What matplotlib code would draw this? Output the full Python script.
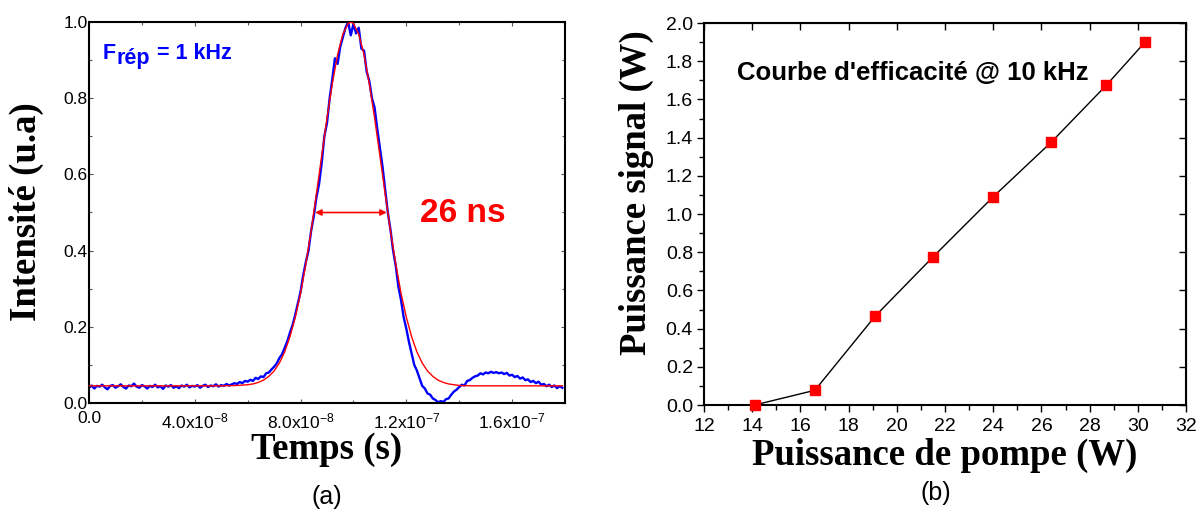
import numpy as np
import matplotlib
matplotlib.use("Agg")
import matplotlib.pyplot as plt
from matplotlib.ticker import MultipleLocator, FormatStrFormatter

plt.rcParams['font.family'] = ['Liberation Sans', 'DejaVu Sans']
plt.rcParams['mathtext.fontset'] = 'custom'
plt.rcParams['mathtext.rm'] = 'Liberation Sans'
plt.rcParams['mathtext.bf'] = 'Liberation Sans:bold'
plt.rcParams['mathtext.it'] = 'Liberation Sans:italic'

pulse_t_ns = np.arange(0, 180)
pulse_val = [
    0.040, 0.046, 0.038, 0.045, 0.043, 0.048, 0.041, 0.036, 0.045, 0.047,
    0.040, 0.044, 0.049, 0.042, 0.038, 0.046, 0.044, 0.051, 0.043, 0.040,
    0.047, 0.044, 0.038, 0.045, 0.042, 0.048, 0.041, 0.044, 0.037, 0.046,
    0.043, 0.047, 0.040, 0.044, 0.039, 0.046, 0.043, 0.048, 0.041, 0.045,
    0.043, 0.047, 0.040, 0.045, 0.048, 0.042, 0.046, 0.044, 0.049, 0.043,
    0.047, 0.045, 0.050, 0.046, 0.049, 0.052, 0.050, 0.055, 0.052, 0.058,
    0.056, 0.061, 0.058, 0.066, 0.063, 0.070, 0.068, 0.078, 0.080, 0.088,
    0.095, 0.104, 0.118, 0.128, 0.145, 0.162, 0.185, 0.205, 0.232, 0.262,
    0.292, 0.335, 0.370, 0.400, 0.452, 0.490, 0.540, 0.575, 0.630, 0.700,
    0.735, 0.800, 0.850, 0.905, 0.890, 0.935, 0.960, 0.985, 1.000, 0.965,
    0.995, 0.970, 0.985, 0.930, 0.925, 0.870, 0.845, 0.800, 0.775, 0.720,
    0.670, 0.620, 0.560, 0.500, 0.455, 0.400, 0.360, 0.305, 0.270, 0.225,
    0.195, 0.160, 0.130, 0.100, 0.085, 0.065, 0.045, 0.038, 0.025, 0.022,
    0.012, 0.008, 0.002, 0.005, 0.003, 0.010, 0.012, 0.022, 0.030, 0.035,
    0.042, 0.048, 0.046, 0.058, 0.060, 0.066, 0.070, 0.072, 0.078, 0.075,
    0.080, 0.078, 0.082, 0.079, 0.081, 0.078, 0.080, 0.076, 0.079, 0.072,
    0.074, 0.068, 0.071, 0.064, 0.067, 0.060, 0.062, 0.055, 0.058, 0.052,
    0.056, 0.048, 0.050, 0.044, 0.048, 0.042, 0.046, 0.039, 0.044, 0.040,
]

# (a) fitted curve (red)
fit_t_ns = [0, 30, 50, 56, 60, 62, 64, 66, 68, 70, 72, 74, 76, 78, 80, 82, 84,
            86, 88, 90, 92, 94, 96, 98, 99, 100, 102, 104, 106, 108, 110, 112,
            114, 116, 118, 120, 122, 124, 126, 128, 130, 132, 134, 136, 138,
            140, 146, 160, 179]
fit_val = [0.045, 0.045, 0.045, 0.046, 0.048, 0.050, 0.054, 0.060, 0.070,
           0.084, 0.105, 0.134, 0.174, 0.225, 0.288, 0.365, 0.452, 0.549,
           0.649, 0.748, 0.838, 0.914, 0.968, 0.996, 1.000, 0.996, 0.968,
           0.914, 0.838, 0.748, 0.649, 0.549, 0.452, 0.365, 0.288, 0.225,
           0.174, 0.134, 0.105, 0.084, 0.070, 0.060, 0.054, 0.050, 0.048,
           0.046, 0.045, 0.045, 0.045]

fwhm_left_ns = 85.5
fwhm_right_ns = 112.6
fwhm_level = 0.5

# (b) efficiency curve @ 10 kHz
pump_w = [14.1, 16.6, 19.1, 21.5, 24.0, 26.4, 28.7, 30.3]
signal_w = [0.0, 0.077, 0.465, 0.775, 1.09, 1.375, 1.675, 1.9]

W, H = 1198, 511
fig = plt.figure(figsize=(W / 100, H / 100), dpi=100)


def box(x0, y0, x1, y1):
    return [x0 / W, 1 - y1 / H, (x1 - x0) / W, (y1 - y0) / H]


def px(x, y):
    return x / W, 1 - y / H


serif = dict(family=['Liberation Serif', 'DejaVu Serif'], weight='bold', size=26.5)

# ---------------- (a) ----------------
ax1 = fig.add_axes(box(89, 22, 565, 403))
t1 = np.array(pulse_t_ns) * 1e-9
ax1.plot(t1, pulse_val, color='#0000ff', lw=1.7, zorder=2)
ax1.plot(np.array(fit_t_ns) * 1e-9, fit_val, color='#ff0000', lw=1.0, zorder=3)
ax1.annotate('', xy=(fwhm_left_ns * 1e-9, fwhm_level),
             xytext=(fwhm_right_ns * 1e-9, fwhm_level),
             arrowprops=dict(arrowstyle='<|-|>', color='#ff0000', lw=1.2,
                             mutation_scale=9, shrinkA=0, shrinkB=0))
fig.text(*px(420, 214), '26 ns', color='#ff0000', fontsize=24,
         fontweight='bold', va='center', ha='left')

# F_rép label, subscript drawn as its own text
blue_txt = dict(color='#0000ff', fontsize=15.5, fontweight='bold', va='baseline')
fig.text(*px(103, 59), 'F', **blue_txt)
fig.text(*px(116, 64), 'rép', **blue_txt)
fig.text(*px(157, 59), '= 1 kHz', **blue_txt)

ax1.set_xlim(0, 1.8e-7)
ax1.set_ylim(0, 1.0)
ax1.set_xticks([0, 4e-8, 8e-8, 1.2e-7, 1.6e-7])
ax1.set_xticklabels(['0.0', r'4.0x10$^{-8}$', r'8.0x10$^{-8}$',
                     r'1.2x10$^{-7}$', r'1.6x10$^{-7}$'])
ax1.xaxis.set_minor_locator(MultipleLocator(2e-8))
ax1.yaxis.set_major_locator(MultipleLocator(0.2))
ax1.yaxis.set_minor_locator(MultipleLocator(0.1))
ax1.yaxis.set_major_formatter(FormatStrFormatter('%.1f'))
ax1.tick_params(which='both', direction='in', top=True, right=True,
                labelsize=12.5, width=0.8, color='#555555')
ax1.tick_params(which='major', length=3)
ax1.tick_params(which='minor', length=2)
ax1.tick_params(axis='y', pad=1)
ax1.tick_params(axis='x', pad=6)
for s in ax1.spines.values():
    s.set_linewidth(1.5)

fig.text(*px(26, 212), 'Intensité (u.a)', rotation=90,
         ha='center', va='center', **serif)
fig.text(*px(327, 459), 'Temps (s)', ha='center', va='baseline', **serif)
fig.text(*px(327, 497), '(a)', ha='center', va='center', fontsize=18)

# ---------------- (b) ----------------
ax2 = fig.add_axes(box(704, 23, 1186, 405))
ax2.plot(pump_w, signal_w, color='black', lw=1.0, marker='s',
         markersize=6.5, markerfacecolor='#ff0000', markeredgecolor='#ff0000',
         clip_on=False, zorder=3)
ax2.set_xlim(12, 32)
ax2.set_ylim(0, 2.0)
ax2.xaxis.set_major_locator(MultipleLocator(2))
ax2.xaxis.set_minor_locator(MultipleLocator(1))
ax2.yaxis.set_major_locator(MultipleLocator(0.2))
ax2.yaxis.set_minor_locator(MultipleLocator(0.1))
ax2.yaxis.set_major_formatter(FormatStrFormatter('%.1f'))
ax2.tick_params(which='both', direction='out', labelsize=14, width=1.0)
ax2.tick_params(which='major', length=5)
ax2.tick_params(which='minor', length=3.5)
ax2.tick_params(axis='y', pad=3)
ax2.tick_params(axis='x', pad=4)
for s in ax2.spines.values():
    s.set_linewidth(1.5)

top = ax2.secondary_xaxis('top')
top.set_xticks(np.arange(12, 33, 2))
top.tick_params(direction='in', length=5, width=1.0, labeltop=False)
right = ax2.secondary_yaxis('right')
right.set_yticks(np.arange(0, 2.01, 0.2))
right.tick_params(direction='in', length=5, width=1.0, labelright=False)

fig.text(*px(737, 73), "Courbe d'efficacité @ 10 kHz",
         fontsize=18.5, fontweight='bold', va='center', ha='left')

fig.text(*px(636, 193), 'Puissance signal (W)', rotation=90,
         ha='center', va='center', **serif)
fig.text(*px(945, 465), 'Puissance de pompe (W)', ha='center',
         va='baseline', **serif)
fig.text(*px(936, 493), '(b)', ha='center', va='center', fontsize=18)

fig.savefig('out.png', dpi=100)
